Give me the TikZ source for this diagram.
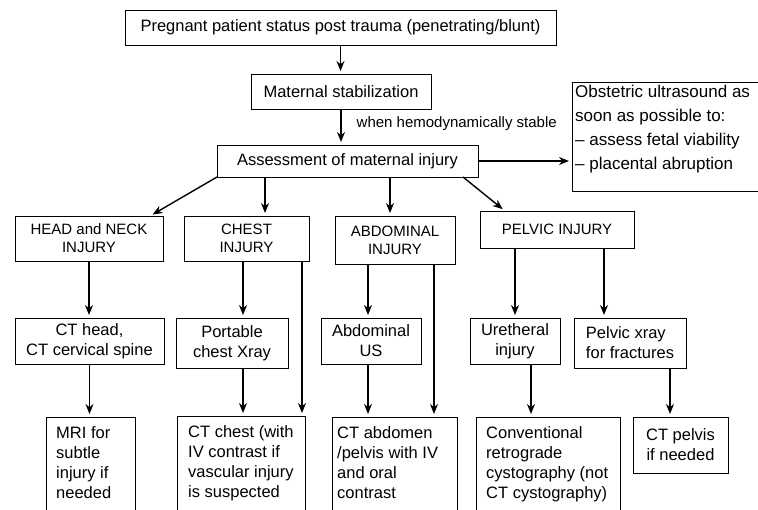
\documentclass[tikz,border=0pt]{standalone}
\usepackage{fontspec}
\setmainfont{Liberation Sans}
\usetikzlibrary{arrows.meta}

\tikzset{
  box/.style={rectangle, draw, line width=0.8pt, inner sep=0pt, outer sep=0pt},
  txt/.style={align=center, inner sep=0pt, font=\fontsize{16.5}{20}\selectfont},
  ltxt/.style={align=left, inner sep=0pt, anchor=north west, font=\fontsize{16.5}{20}\selectfont},
  captxt/.style={align=center, inner sep=0pt, font=\fontsize{15}{18}\selectfont},
  flow/.style={->, line width=1.4pt, shorten >=3pt}
}

\begin{document}
\begin{tikzpicture}[x=1pt, y=-1pt, >={Stealth[length=10pt, width=8pt]}]

    \clip (0,0) rectangle (758,509);

    % top of the chart
    \node[box, minimum width=431, minimum height=35] (trauma) at (340.5,27.5) {};
    \node[txt] at (trauma.center) {Pregnant patient status post trauma (penetrating/blunt)};

    \node[box, minimum width=180, minimum height=35] (stab) at (341,91.5) {};
    \node[txt] at (stab.center) {Maternal stabilization};

    \node[box, minimum width=261, minimum height=32] (assess) at (347.5,161) {};
    \node[txt] at (assess.center) {Assessment of maternal injury};

    \node[box, minimum width=198, minimum height=109] (obst) at (671,136.5) {};
    \node[ltxt, font=\fontsize{17}{24}\selectfont] at ([xshift=3pt, yshift=-3pt]obst.north west)
        {Obstetric ultrasound as\\soon as possible to:\\-- assess fetal viability\\-- placental abruption};

    % injury types
    \node[box, minimum width=148, minimum height=45] (head) at (89,238.5) {};
    \node[captxt] at (head.center) {HEAD and NECK\\INJURY};

    \node[box, minimum width=125, minimum height=45] (chest) at (246.5,238.5) {};
    \node[captxt] at (chest.center) {CHEST\\INJURY};

    \node[box, minimum width=120, minimum height=48] (abd) at (395,240) {};
    \node[captxt] at (abd.center) {ABDOMINAL\\INJURY};

    \node[box, minimum width=154, minimum height=37] (pelvic) at (557,229.5) {};
    \node[captxt] at (pelvic.center) {PELVIC INJURY};

    % first tests
    \node[box, minimum width=149, minimum height=46] (cthead) at (89.5,341) {};
    \node[txt] at (cthead.center) {CT head,\\CT cervical spine};

    \node[box, minimum width=112, minimum height=50] (xray) at (232,343) {};
    \node[txt] at (xray.center) {Portable\\chest Xray};

    \node[box, minimum width=100, minimum height=46] (abdus) at (371,341) {};
    \node[txt] at (abdus.center) {Abdominal\\US};

    \node[box, minimum width=90, minimum height=46] (ureth) at (515,341) {};
    \node[txt] at (ureth.center) {Uretheral\\injury};

    \node[box, minimum width=112, minimum height=50] (pelvx) at (630,343) {};
    \node[txt, align=left] at (pelvx.center) {Pelvic xray\\for fractures};

    % further imaging
    \node[box, minimum width=89, minimum height=113] (mri) at (90.5,473.5) {};
    \node[ltxt] at ([xshift=10pt, yshift=-9pt]mri.north west) {MRI for\\subtle\\injury if\\needed};

    \node[box, minimum width=128, minimum height=114] (ctchest) at (241,473) {};
    \node[ltxt] at ([xshift=11pt, yshift=-9pt]ctchest.north west)
        {CT chest (with\\IV contrast if\\vascular injury\\is suspected};

    \node[box, minimum width=125, minimum height=113] (ctabd) at (394.5,473.5) {};
    \node[ltxt] at ([xshift=5pt, yshift=-9pt]ctabd.north west)
        {CT abdomen\\/pelvis with IV\\and oral\\contrast};

    \node[box, minimum width=144, minimum height=113] (cysto) at (548,473.5) {};
    \node[ltxt] at ([xshift=10pt, yshift=-9pt]cysto.north west)
        {Conventional\\retrograde\\cystography (not\\CT cystography)};

    \node[box, minimum width=95, minimum height=56] (ctpelvis) at (680.5,445) {};
    \node[txt] at (ctpelvis.center) {CT pelvis\\if needed};

    % arrows
    \draw[flow] (trauma.south) -- (trauma.south |- stab.north);
    \draw[flow] (stab.south) -- (stab.south |- assess.north)
        node[pos=0.4, right=15pt, inner sep=0pt, font=\fontsize{15}{17}\selectfont] {when hemodynamically stable};
    \draw[flow] (assess.east) -- (assess.east -| obst.west);

    \draw[flow] (assess.south west) -- ([xshift=-13pt]head.north east);
    \draw[flow] ([xshift=18.5pt]assess.south -| chest.north) -- ([xshift=18.5pt]chest.north);
    \draw[flow] ([xshift=-5pt]assess.south -| abd.north) -- ([xshift=-5pt]abd.north);
    \draw[flow] ([xshift=-15pt]assess.south east) -- ([xshift=25pt]pelvic.north west);

    \draw[flow] (head.south) -- (head.south |- cthead.north);
    \draw[flow] ([xshift=-3.5pt]chest.south) -- ([xshift=-3.5pt]chest.south |- xray.north);
    \draw[flow] ([xshift=-7pt]chest.south east) -- ([xshift=-7pt]chest.south east |- ctchest.north);
    \draw[flow] ([xshift=-3pt]abdus.north |- abd.south) -- ([xshift=-3pt]abdus.north);
    \draw[flow] ([xshift=-21pt]abd.south east) -- ([xshift=-21pt]abd.south east |- ctabd.north);
    \draw[flow] (ureth.north |- pelvic.south) -- (ureth.north);
    \draw[flow] ([xshift=-26pt]pelvx.north |- pelvic.south) -- ([xshift=-26pt]pelvx.north);

    \draw[flow] (cthead.south) -- (cthead.south |- mri.north);
    \draw[flow] ([xshift=11pt]xray.south) -- ([xshift=11pt]xray.south |- ctchest.north);
    \draw[flow] ([xshift=-3pt]abdus.south) -- ([xshift=-3pt]abdus.south |- ctabd.north);
    \draw[flow] ([xshift=16pt]ureth.south) -- ([xshift=16pt]ureth.south |- cysto.north);
    \draw[flow] ([xshift=40pt]pelvx.south) -- ([xshift=40pt]pelvx.south |- ctpelvis.north);

\end{tikzpicture}
\end{document}
